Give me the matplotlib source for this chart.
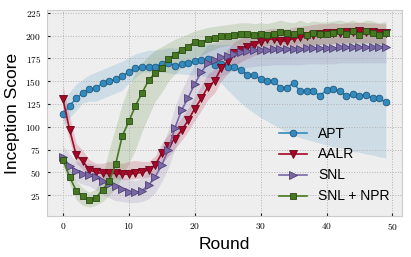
import numpy as np
import matplotlib
matplotlib.use('Agg')
import matplotlib.pyplot as plt

plt.style.use('bmh')
plt.rcParams['axes.formatter.use_mathtext'] = True

# rounds 0..49
rounds = np.arange(50)

# APT
apt = [114, 123, 131, 137, 141, 142, 148, 150, 152, 156,
       160, 164, 165, 166, 166, 169, 170, 167, 169, 170,
       172, 173, 174, 168, 169, 166, 166, 162, 157, 157,
       152, 150, 150, 143, 143, 148, 139, 139, 139, 134,
       140, 141, 139, 134, 136, 134, 135, 131, 131, 127]
apt_lo = [100, 110, 118, 126, 128, 128, 131, 134, 137, 140,
          148, 154, 160, 160, 160, 160, 159, 158, 158, 157,
          157, 156, 154, 152, 148, 140, 133, 126, 120, 115,
          110, 106, 102, 98, 94, 91, 88, 86, 84, 82,
          80, 78, 77, 75, 73, 72, 70, 69, 67, 66]
apt_hi = [132, 138, 147, 152, 157, 160, 163, 166, 169, 172,
          176, 180, 182, 184, 184, 185, 187, 186, 187, 188,
          189, 190, 191, 190, 190, 190, 190, 189, 189, 189,
          189, 188, 188, 188, 188, 188, 187, 187, 187, 187,
          187, 187, 187, 187, 187, 187, 187, 187, 187, 187]

# AALR
aalr = [130, 97, 69, 62, 53, 50, 49, 49, 49, 48,
        48, 49, 50, 53, 58, 71, 79, 87, 96, 107,
        120, 131, 144, 150, 164, 172, 181, 184, 188, 190,
        193, 196, 196, 194, 194, 197, 198, 199, 201, 202,
        203, 203, 203, 204, 204, 205, 204, 204, 203, 203]
aalr_lo = [112, 85, 60, 53, 45, 42, 42, 43, 43, 42,
           42, 43, 44, 45, 48, 60, 68, 76, 85, 95,
           107, 118, 130, 137, 150, 158, 167, 171, 175, 178,
           180, 183, 184, 183, 183, 185, 186, 187, 189, 190,
           191, 191, 191, 192, 192, 193, 192, 192, 191, 191]
aalr_hi = [145, 112, 82, 74, 64, 60, 60, 62, 61, 60,
           62, 63, 62, 62, 68, 82, 92, 100, 110, 120,
           133, 145, 158, 163, 176, 185, 193, 197, 200, 203,
           205, 207, 208, 207, 207, 209, 210, 211, 212, 213,
           213, 214, 213, 214, 214, 215, 214, 214, 213, 213]

# SNL
snl = [67, 57, 51, 48, 47, 45, 40, 37, 35, 32,
       29, 28, 30, 36, 45, 58, 75, 99, 118, 132,
       147, 160, 170, 173, 176, 178, 180, 182, 183, 184,
       184, 184, 185, 185, 185, 185, 185, 186, 186, 186,
       186, 186, 187, 187, 188, 187, 187, 187, 187, 188]
snl_lo = [57, 47, 40, 37, 35, 31, 26, 22, 19, 18,
          17, 17, 18, 21, 28, 40, 55, 76, 94, 110,
          125, 138, 148, 152, 156, 159, 162, 164, 165, 166,
          167, 167, 168, 168, 168, 168, 168, 169, 169, 169,
          169, 169, 170, 170, 170, 170, 170, 170, 170, 170]
snl_hi = [79, 70, 62, 60, 60, 58, 55, 52, 48, 45,
          42, 41, 44, 52, 62, 78, 97, 122, 140, 155,
          168, 180, 190, 192, 195, 197, 198, 200, 201, 202,
          202, 202, 203, 203, 203, 203, 203, 204, 204, 204,
          204, 204, 205, 205, 206, 205, 205, 205, 205, 206]

# SNL + NPR
npr = [64, 45, 30, 24, 20, 22, 31, 40, 59, 90,
       106, 123, 137, 151, 159, 164, 174, 179, 184, 188,
       193, 192, 196, 197, 199, 200, 201, 202, 202, 201,
       202, 201, 202, 204, 203, 202, 205, 201, 203, 202,
       202, 203, 205, 202, 205, 201, 205, 203, 201, 203]
npr_lo = [57, 37, 20, 14, 12, 14, 18, 25, 32, 45,
          60, 75, 95, 112, 128, 138, 150, 158, 165, 170,
          176, 178, 182, 185, 188, 189, 190, 190, 190, 189,
          190, 189, 190, 191, 191, 190, 192, 189, 190, 190,
          190, 191, 192, 190, 192, 189, 192, 191, 189, 191]
npr_hi = [72, 55, 40, 33, 28, 32, 45, 75, 100, 125,
          145, 160, 170, 178, 184, 188, 192, 196, 199, 202,
          205, 207, 209, 210, 211, 212, 213, 214, 214, 213,
          214, 213, 215, 217, 215, 214, 217, 214, 216, 215,
          215, 216, 217, 215, 217, 214, 217, 216, 214, 216]

series = [
    ('APT', apt, apt_lo, apt_hi, '#348ABD', '#1d5a80', 'o', 4.8),
    ('AALR', aalr, aalr_lo, aalr_hi, '#A60628', '#6b0419', 'v', 5.2),
    ('SNL', snl, snl_lo, snl_hi, '#7A68A6', '#4e4175', '>', 5.2),
    ('SNL + NPR', npr, npr_lo, npr_hi, '#467821', '#2b4a14', 's', 4.8),
]

fig = plt.figure(figsize=(4.11, 2.57), dpi=100)
ax = fig.add_axes([0.114, 0.16, 0.864, 0.801])

for name, y, lo, hi, col, ecol, mk, ms in series:
    ax.fill_between(rounds, lo, hi, color=col, alpha=0.17, linewidth=0)
for name, y, lo, hi, col, ecol, mk, ms in series:
    ax.plot(rounds, y, color=col, linewidth=1.2, marker=mk, markersize=ms,
            markerfacecolor=col, markeredgecolor=ecol, markeredgewidth=0.6,
            label=name)

ax.set_xlim(-2.45, 51.45)
ax.set_ylim(2.3, 228)
ax.set_xticks([0, 10, 20, 30, 40, 50])
ax.set_yticks([25, 50, 75, 100, 125, 150, 175, 200, 225])
ax.tick_params(labelsize=6.8, labelfontfamily='cmr10', direction='in',
               length=2.5, width=0.8, color='#222222', pad=4)
ax.grid(True, linestyle=':', color='#b2b2b2', linewidth=0.7)
for sp in ax.spines.values():
    sp.set_color('#cccccc')

ax.set_xlabel('Round', fontsize=12.5, fontfamily='Liberation Sans', labelpad=3)
ax.set_ylabel('Inception Score', fontsize=12.5, fontfamily='Liberation Sans', labelpad=4)

ax.legend(loc='lower right', frameon=False, prop={'family': 'Liberation Sans', 'size': 10})

fig.savefig('out.png', dpi=100)
